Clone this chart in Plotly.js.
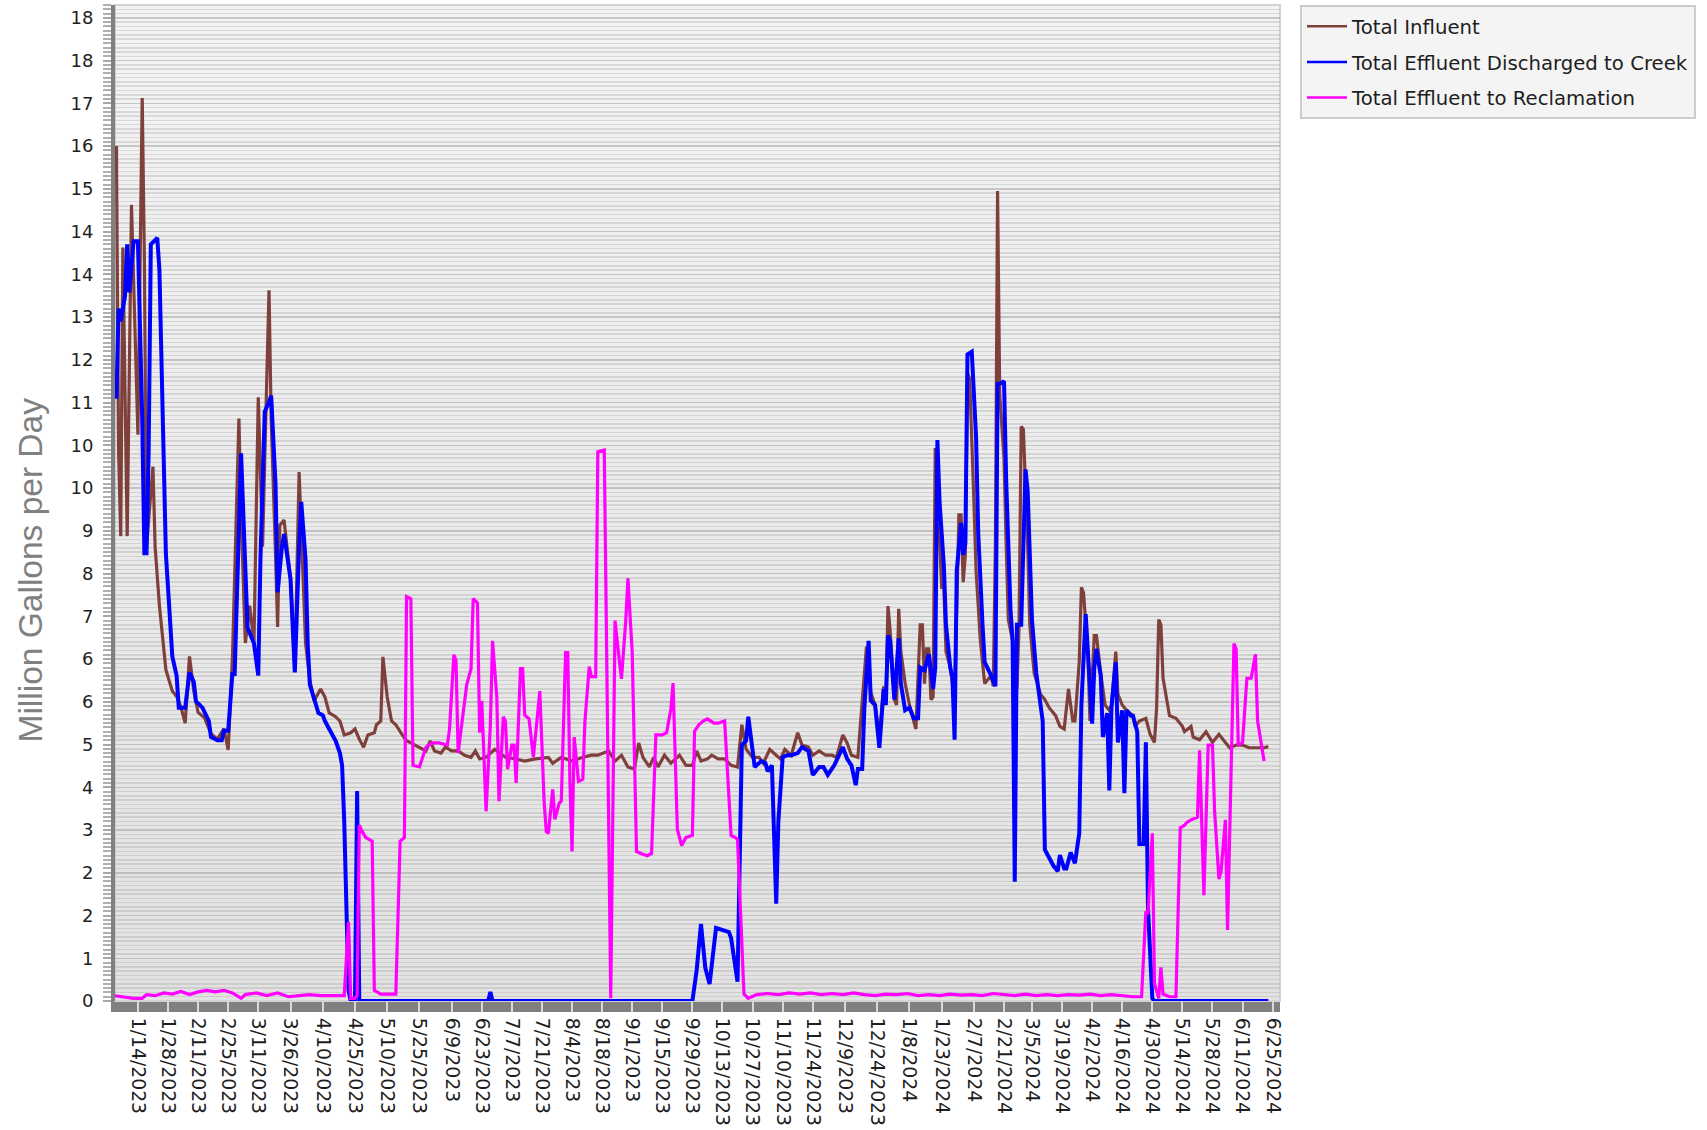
<!DOCTYPE html>
<html>
<head>
<meta charset="utf-8">
<script src="https://cdn.plot.ly/plotly-3.0.1.min.js"></script>
<style>
html,body{margin:0;padding:0;background:#ffffff;}
#chart{width:1707px;height:1130px;}
</style>
</head>
<body>
<div id="chart"></div>
<script>
// Day offsets are counted from this date (day 0 = 1/14/2023)
const baseDate = '2023-01-14';

const influentDay = [-10,-9,-8,-7,-5,-3,0,2,3,4,7,8,10,13,16,18,20,22,24,26,28,31,34,37,40,42,44,47,48,50,52,54,56,58,61,62,64,65,66,68,71,73,75,78,
  80,82,85,87,89,92,94,96,99,101,103,105,107,110,111,113,114,116,118,120,123,125,127,131,134,136,138,141,143,146,149,152,155,157,159,162,
  166,171,176,180,185,191,193,197,202,207,211,214,219,222,225,228,231,233,235,238,240,242,245,248,252,
  255,258,260,262,265,267,270,273,276,279,281,283,286,289,291,294,297,299,301,304,307,309,312,314,317,320,323,325,328,330,332,335,339,341,
  343,345,347,348,349,350,352,353,354,355,357,359,361,362,364,365,366,367,368,369,370,371,372,374,375,376,378,380,382,383,384,385,386,387,389,390,392,394,397,398,399,400,401,403,404,405,407,409,410,411,412,414,415,417,420,422,424,427,429,431,433,435,
  436,438,439,440,442,443,445,446,448,450,452,453,455,456,458,460,463,464,466,469,471,473,474,475,476,477,480,483,486,487,490,491,494,497,500,503,505,508,511,514,517,520,524,526];
const influentMGD = [16.0,10.3,8.7,14.1,8.7,14.9,10.6,16.9,13.9,8.5,10.0,8.5,7.4,6.2,5.8,5.7,5.5,5.2,6.45,5.8,5.4,5.3,5.0,4.9,5.1,4.7,6.45,10.9,9.1,6.7,7.4,6.7,11.3,8.5,13.3,10.9,8.4,7.0,8.9,9.0,7.9,6.2,9.9,6.7,
  6.0,5.62,5.84,5.69,5.39,5.32,5.24,4.98,5.02,5.09,4.90,4.75,4.98,5.02,5.17,5.24,6.44,5.69,5.24,5.17,4.98,4.87,4.83,4.75,4.68,4.87,4.68,4.64,4.75,4.68,4.68,4.60,4.56,4.68,4.53,4.56,
  4.71,4.56,4.53,4.49,4.53,4.56,4.45,4.56,4.49,4.56,4.60,4.60,4.68,4.49,4.60,4.38,4.34,4.83,4.56,4.38,4.56,4.38,4.60,4.45,4.60,
  4.41,4.41,4.68,4.49,4.53,4.60,4.53,4.53,4.41,4.38,5.17,4.71,4.56,4.56,4.45,4.71,4.60,4.53,4.71,4.60,5.02,4.79,4.75,4.60,4.68,4.60,4.60,4.56,4.98,4.83,4.60,4.56,6.63,5.77,
  5.54,4.94,5.89,5.54,7.39,6.94,5.64,5.54,7.34,6.54,5.94,5.54,5.24,5.09,7.04,7.04,5.94,6.59,6.59,5.64,5.69,10.35,9.55,7.74,7.74,6.54,6.24,5.64,9.1,9.1,7.84,8.35,11.75,11.65,9.35,8.05,6.74,5.94,6.09,5.89,8.55,15.16,11.35,10.15,8.55,7.14,6.74,5.84,7.04,10.75,10.7,8.55,7.04,6.14,5.74,5.64,5.49,5.34,5.14,5.09,5.84,5.24,
  5.24,6.34,7.74,7.64,6.54,5.24,6.84,6.84,6.14,5.54,5.44,5.54,6.54,5.74,5.54,5.44,5.34,5.14,5.24,5.29,4.99,4.84,5.49,7.14,7.04,6.04,5.34,5.29,5.14,5.04,5.14,4.94,4.89,5.04,4.84,4.99,4.89,4.74,4.79,4.79,4.74,4.74,4.74,4.76];

const creekDay = [-10,-9,-8,-6,-5,-4,-2,0,2,3,4,5,6,9,10,12,13,16,18,19,22,24,26,27,30,33,34,37,39,40,42,44,45,48,50,51,54,56,57,59,61,62,64,65,67,68,71,73,75,76,78,79,
  80,82,84,86,87,89,92,94,95,96,97,98,99,101,102,103,163,164,165,
  258,260,262,264,266,269,272,275,276,279,281,283,284,286,287,290,292,293,295,297,298,300,302,
  304,307,309,312,314,317,319,321,324,328,330,332,334,335,337,338,340,341,343,345,347,348,349,350,352,354,355,357,359,361,363,364,366,368,369,370,371,
  372,373,375,376,378,379,380,381,383,384,385,386,388,390,391,393,394,397,399,400,401,403,404,406,407,408,409,411,413,414,416,418,421,422,424,426,428,429,431,432,434,
  436,438,439,441,442,444,445,446,448,449,451,452,453,455,456,458,459,460,462,463,465,466,468,469,470,471,472,473,526];
const creekMGD = [11.27,12.96,12.72,13.2,14.16,13.26,14.22,14.22,10.9,8.38,8.38,10.3,14.16,14.28,13.68,10.3,8.38,6.45,6.09,5.49,5.49,6.15,5.97,5.61,5.49,5.24,4.94,4.88,4.88,5.06,5.06,6.15,6.09,10.25,7.9,6.99,6.69,6.09,8.26,11.03,11.21,11.33,9.7,7.65,8.5,8.74,7.9,6.15,8.5,9.34,8.26,6.69,
  5.92,5.62,5.39,5.35,5.24,5.09,4.87,4.64,4.41,3.36,1.86,0.2,0,0,3.93,0,0,0.17,0,
  0,0.58,1.44,0.62,0.32,1.37,1.33,1.29,1.18,0.36,4.79,4.87,5.32,4.71,4.38,4.49,4.45,4.3,4.41,1.82,3.36,4.56,4.6,
  4.6,4.64,4.75,4.68,4.23,4.38,4.38,4.23,4.41,4.75,4.53,4.41,4.04,4.34,4.34,5.47,6.74,5.62,5.54,4.74,5.84,5.54,6.84,6.74,5.64,6.79,5.94,5.44,5.49,5.29,5.29,6.24,6.19,6.49,6.19,5.84,6.24,
  10.5,9.35,8.15,7.04,6.24,6.04,4.89,8.05,8.95,8.35,8.55,12.1,12.15,10.55,8.75,7.04,6.34,6.09,5.89,11.55,11.55,11.6,9.75,7.34,6.74,2.23,7.04,7.04,9.95,9.55,7.14,6.14,5.24,2.83,2.68,2.53,2.43,2.73,2.48,2.48,2.78,
  2.58,3.14,5.54,7.24,6.54,5.19,6.24,6.59,6.09,4.94,5.39,3.94,5.49,6.34,4.84,5.44,3.89,5.44,5.34,5.34,5.04,2.94,2.94,4.84,1.73,1.03,0.05,0,0];

const reclaimDay = [-11,-6,-2,2,4,8,12,16,20,24,28,32,36,40,44,48,50,55,60,65,70,75,80,85,90,94,96,
  98,99,101,102,103,104,106,109,110,113,120,122,124,125,127,
  128,131,132,134,137,140,144,145,147,148,149,151,153,155,156,158,159,160,162,164,165,167,168,170,171,172,174,175,176,178,179,
  180,182,184,186,187,189,190,191,193,194,196,197,199,200,201,202,203,205,207,208,210,211,213,214,217,220,222,224,225,227,228,230,
  232,234,237,239,241,244,246,248,249,251,253,255,258,259,261,263,265,268,270,273,276,278,279,
  282,284,288,293,298,303,308,313,318,323,328,333,338,343,348,353,358,363,368,373,378,383,388,393,398,403,408,413,418,423,428,433,438,443,448,453,458,463,467,
  469,470,472,473,475,476,477,480,483,485,487,488,490,493,494,496,498,500,501,503,504,506,507,510,511,512,514,516,518,520,521,524];
const reclaimMGD = [0.1,0.08,0.05,0.05,0.12,0.1,0.15,0.13,0.18,0.12,0.17,0.2,0.17,0.2,0.15,0.05,0.12,0.15,0.1,0.15,0.08,0.1,0.12,0.1,0.1,0.1,0.1,
  1.48,0.05,0.05,0.1,3.29,3.2,3.06,2.99,0.2,0.13,0.13,2.99,3.06,7.57,7.53,
  4.41,4.38,4.49,4.75,4.83,4.83,4.79,5.09,6.48,6.37,4.64,5.24,5.92,6.22,7.53,7.45,5.02,5.62,3.55,5.17,6.74,5.69,3.74,5.32,5.24,4.34,4.79,4.79,4.08,6.22,6.22,
  5.35,5.28,4.56,5.32,5.8,3.74,3.17,3.14,3.96,3.4,3.7,3.74,6.52,6.52,4.11,2.8,4.94,4.11,4.15,5.24,6.26,6.07,6.07,10.28,10.31,0.05,7.12,6.37,6.03,7.12,7.91,6.52,
  2.8,2.76,2.72,2.76,4.98,4.98,5.02,5.47,5.95,3.21,2.91,3.06,3.1,5.05,5.17,5.24,5.28,5.2,5.2,5.24,3.1,3.06,3.02,
  0.13,0.05,0.12,0.14,0.12,0.15,0.13,0.15,0.12,0.14,0.12,0.15,0.12,0.1,0.13,0.12,0.14,0.1,0.12,0.1,0.13,0.11,0.12,0.1,0.14,0.12,0.1,0.13,0.1,0.12,0.1,0.12,0.11,0.13,0.1,0.12,0.1,0.08,0.08,
  1.68,1.63,3.14,0.33,0.05,0.63,0.13,0.08,0.08,3.24,3.29,3.34,3.39,3.44,4.69,1.98,4.79,4.79,3.54,2.28,2.43,3.39,1.33,6.69,6.59,4.79,4.84,6.04,6.04,6.49,5.24,4.49];

const seriesNames = ['Total Influent', 'Total Effluent Discharged to Creek', 'Total Effluent to Reclamation'];
const seriesColors = ['#7f403c', '#0000ff', '#ff00ff'];

const xTickVals = ['2023-01-14','2023-01-28','2023-02-11','2023-02-25','2023-03-11','2023-03-26','2023-04-10','2023-04-25','2023-05-10','2023-05-25','2023-06-09','2023-06-23','2023-07-07','2023-07-21','2023-08-04','2023-08-18','2023-09-01','2023-09-15','2023-09-29','2023-10-13','2023-10-27','2023-11-10','2023-11-24','2023-12-09','2023-12-24','2024-01-08','2024-01-23','2024-02-07','2024-02-21','2024-03-05','2024-03-19','2024-04-02','2024-04-16','2024-04-30','2024-05-14','2024-05-28','2024-06-11','2024-06-25'];
const xTickText = ['1/14/2023','1/28/2023','2/11/2023','2/25/2023','3/11/2023','3/26/2023','4/10/2023','4/25/2023','5/10/2023','5/25/2023','6/9/2023','6/23/2023','7/7/2023','7/21/2023','8/4/2023','8/18/2023','9/1/2023','9/15/2023','9/29/2023','10/13/2023','10/27/2023','11/10/2023','11/24/2023','12/9/2023','12/24/2023','1/8/2024','1/23/2024','2/7/2024','2/21/2024','3/5/2024','3/19/2024','4/2/2024','4/16/2024','4/30/2024','5/14/2024','5/28/2024','6/11/2024','6/25/2024'];

const yTickVals = [0,0.8,1.6,2.4,3.2,4.0,4.8,5.6,6.4,7.2,8.0,8.8,9.6,10.4,11.2,12.0,12.8,13.6,14.4,15.2,16.0,16.8,17.6,18.4];
const yTickText = ['0','1','2','2','3','4','5','6','6','7','8','9','10','10','11','12','13','14','14','15','16','17','18','18'];

const yTitle = 'Million Gallons per Day';

function toDate(d) {
  const base = new Date(baseDate + 'T00:00:00Z').getTime();
  return new Date(base + d * 86400000).toISOString().slice(0, 10);
}

const dayLists = [influentDay, creekDay, reclaimDay];
const valLists = [influentMGD, creekMGD, reclaimMGD];
const widths = [3.2, 4, 3.2];

const traces = seriesNames.map((name, i) => ({
  type: 'scatter',
  mode: 'lines',
  name: name,
  legendgroup: 'g' + i,
  showlegend: false,
  x: dayLists[i].map(toDate),
  y: valLists[i],
  line: {color: seriesColors[i], width: widths[i]},
  hoverinfo: 'skip'
}));
// legend entries drawn with the thinner sample line the reference uses
seriesNames.forEach((name, i) => traces.push({
  type: 'scatter', mode: 'lines', name: name, legendgroup: 'g' + i,
  x: [null], y: [null], line: {color: seriesColors[i], width: 2.5}, hoverinfo: 'skip'
}));

// background gradient bands (paper coords)
const shapes = [];
const nBands = 24;
for (let i = 0; i < nBands; i++) {
  const t = i / (nBands - 1);
  const c = Math.round(0xe2 + (0xf3 - 0xe2) * t);
  shapes.push({type: 'rect', xref: 'paper', yref: 'paper', x0: 0, x1: 1, y0: i / nBands, y1: (i + 1) / nBands,
    fillcolor: `rgb(${c},${c},${c})`, line: {width: 0}, layer: 'below'});
}
// bottom axis bar
shapes.push({type: 'rect', xref: 'paper', yref: 'paper', x0: -4 / 1165, x1: 1, y0: -11 / 996, y1: 0,
  fillcolor: '#808080', line: {width: 0}, layer: 'below'});
// light border top/right
shapes.push({type: 'rect', xref: 'paper', yref: 'paper', x0: 0, x1: 1, y0: 0, y1: 1,
  fillcolor: 'rgba(0,0,0,0)', line: {color: '#d2d2d2', width: 2}, layer: 'below'});

const gridCol = 'rgba(150,150,150,0.28)';

const layout = {
  width: 1707,
  height: 1130,
  margin: {l: 115, r: 427, t: 5, b: 129, autoexpand: false},
  paper_bgcolor: '#ffffff',
  plot_bgcolor: '#ebebeb',
  showlegend: true,
  font: {family: 'DejaVu Sans', color: '#1e1e1e'},
  xaxis: {
    type: 'date',
    range: ['2023-01-03 08:00', '2024-06-28 10:00'],
    tickmode: 'array',
    tickvals: xTickVals,
    ticktext: xTickText,
    tickangle: 90,
    ticks: 'outside',
    ticklen: 10,
    tickwidth: 2,
    tickcolor: '#d8d8d8',
    tickfont: {family: 'DejaVu Sans', size: 18.8, color: '#1e1e1e'},
    ticklabelstandoff: 2,
    showgrid: false,
    showline: false,
    zeroline: false,
    automargin: false
  },
  yaxis: {
    range: [0, 18.64],
    tickmode: 'array',
    tickvals: yTickVals,
    ticktext: yTickText,
    ticks: 'outside',
    ticklen: 8,
    tickwidth: 2,
    tickcolor: '#a8a8a8',
    tickfont: {family: 'DejaVu Sans', size: 18, color: '#1e1e1e'},
    ticklabelstandoff: 6,
    showline: true,
    linecolor: '#808080',
    linewidth: 4,
    showgrid: true,
    gridcolor: gridCol,
    gridwidth: 1.5,
    zeroline: false,
    automargin: false,
    minor: {
      tickmode: 'linear', tick0: 0, dtick: 0.08,
      ticks: 'outside', ticklen: 8, tickwidth: 2, tickcolor: '#b0b0b0',
      showgrid: true, gridcolor: gridCol, gridwidth: 1.5
    }
  },
  annotations: [{
    text: yTitle,
    xref: 'paper', yref: 'paper',
    x: (29.5 - 115) / 1165, y: (1001 - 570) / 996,
    xanchor: 'center', yanchor: 'middle',
    textangle: -90,
    showarrow: false,
    font: {family: 'Liberation Sans', size: 33.5, color: '#808080'}
  }],
  legend: {
    xref: 'container', yref: 'container',
    x: 1300 / 1707, y: 1 - 5 / 1130,
    xanchor: 'left', yanchor: 'top',
    bgcolor: '#f4f4f4',
    bordercolor: '#cccccc',
    borderwidth: 2,
    font: {family: 'DejaVu Sans', size: 19.7, color: '#1e1e1e'},
    traceorder: 'grouped',
    tracegroupgap: 7,
    itemwidth: 40
  },
  shapes: shapes,
  hovermode: false
};

Plotly.newPlot('chart', traces, layout, {staticPlot: true, displayModeBar: false});
</script>
</body>
</html>
